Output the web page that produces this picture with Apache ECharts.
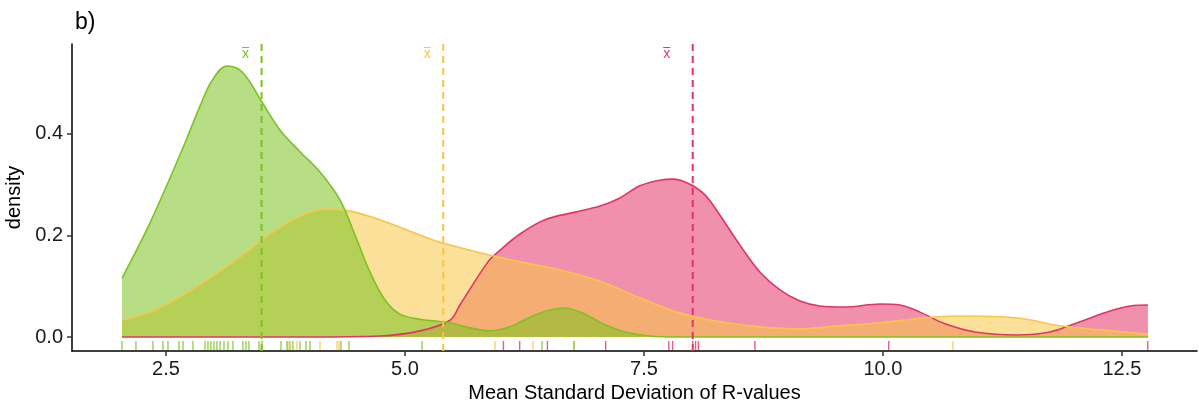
<!DOCTYPE html>
<html>
<head>
<meta charset="utf-8">
<script src="https://cdn.jsdelivr.net/npm/echarts@6/dist/echarts.min.js"></script>
<style>
    html, body { margin: 0; padding: 0; background: #fff; }
    #chart { width: 1199px; height: 406px; }
</style>
</head>
<body>
<div id="chart"></div>
<script type="text/javascript">
    // density curves (x = mean SD, y = density)
    var greenX = [2.04, 2.333, 2.667, 2.856, 2.981, 3.138, 3.274, 3.379, 3.504, 3.692, 3.902, 4.111, 4.32, 4.477, 4.634, 4.791, 4.948, 5.157, 5.471, 5.68, 5.889, 6.098, 6.308, 6.517, 6.674, 6.883, 7.092, 7.301, 7.563, 7.877, 9.0, 10.0, 11.0, 12.0, 12.772];
    var greenY = [0.116, 0.225, 0.368, 0.455, 0.505, 0.534, 0.526, 0.502, 0.463, 0.408, 0.365, 0.325, 0.27, 0.201, 0.128, 0.073, 0.045, 0.035, 0.028, 0.018, 0.012, 0.02, 0.039, 0.053, 0.057, 0.045, 0.024, 0.01, 0.002, 0, 0, 0, 0, 0, 0];

    var yellowX = [2.04, 2.333, 2.646, 2.96, 3.274, 3.588, 3.902, 4.163, 4.425, 4.738, 5.157, 5.397, 5.785, 6.203, 6.621, 7.04, 7.458, 7.877, 8.295, 8.713, 9.132, 9.55, 9.969, 10.387, 10.701, 11.015, 11.433, 11.852, 12.27, 12.772];
    var yellowY = [0.033, 0.049, 0.079, 0.116, 0.158, 0.203, 0.238, 0.252, 0.248, 0.231, 0.201, 0.185, 0.166, 0.148, 0.132, 0.11, 0.077, 0.047, 0.03, 0.02, 0.016, 0.022, 0.028, 0.037, 0.041, 0.041, 0.037, 0.022, 0.014, 0.006];

    var pinkX = [2.04, 3.0, 4.0, 4.739, 5.157, 5.471, 5.575, 5.868, 5.994, 6.203, 6.464, 6.778, 7.04, 7.249, 7.458, 7.667, 7.803, 7.981, 8.138, 8.295, 8.504, 8.713, 8.923, 9.132, 9.341, 9.603, 9.969, 10.178, 10.387, 10.649, 10.962, 11.402, 11.747, 12.061, 12.375, 12.584, 12.772];
    var pinkY = [0, 0, 0, 0.002, 0.012, 0.033, 0.063, 0.148, 0.171, 0.203, 0.231, 0.246, 0.258, 0.274, 0.298, 0.309, 0.311, 0.301, 0.28, 0.24, 0.181, 0.128, 0.093, 0.071, 0.061, 0.059, 0.065, 0.063, 0.049, 0.026, 0.01, 0.004, 0.01, 0.03, 0.051, 0.061, 0.063];

    // rug (single observations)
    var greenRug = [2.04, 2.186, 2.364, 2.469, 2.521, 2.636, 2.678, 2.782, 2.908, 2.939, 2.971, 3.002, 3.033, 3.065, 3.107, 3.149, 3.201, 3.305, 3.337, 3.368, 3.473, 3.504, 3.703, 3.766, 3.797, 3.828, 3.902, 3.964, 4.006, 4.331, 4.414, 5.178, 6.433, 6.768];
    var yellowRug = [3.776, 3.87, 4.111, 4.289, 4.31, 5.941, 6.339, 6.768, 10.732];
    var pinkRug = [6.03, 6.2, 6.49, 7.1, 7.76, 7.8, 8.01, 8.04, 8.07, 8.66, 10.06, 12.77];

    // group means (dashed lines)
    var means = [3.50, 5.40, 8.01];

    var xTicks = [2.5, 5.0, 7.5, 10.0, 12.5];
    var yTicks = [0.0, 0.2, 0.4];

    var lineColors = ['#7cc31f', '#f8c646', '#e33468'];   // green, yellow, pink
    var meanLabelShift = [-16, -16, -26];
    var font = 'Liberation Sans, Arial, sans-serif';

    function pairs(xs, ys) {
        var out = [];
        for (var i = 0; i < xs.length; i++) {
            out.push([xs[i], ys[i]]);
        }
        return out;
    }

    function densitySeries(name, xs, ys, color) {
        return {
            name: name,
            type: 'line',
            data: pairs(xs, ys),
            smooth: 0.35,
            showSymbol: false,
            symbol: 'none',
            lineStyle: { color: color, width: 1.6 },
            areaStyle: { color: color, opacity: 0.55 },
            silent: true,
            z: 2
        };
    }

    function rugSeries(name, values, color) {
        return {
            name: name + ' rug',
            type: 'custom',
            data: values,
            silent: true,
            z: 3,
            renderItem: function (params, api) {
                var p = api.coord([api.value(0), 0]);
                return {
                    type: 'line',
                    shape: { x1: p[0], y1: p[1] + 4, x2: p[0], y2: p[1] + 13 },
                    style: { stroke: color, lineWidth: 1.4, opacity: 0.8 }
                };
            }
        };
    }

    var yMin = -0.0276, yMax = 0.5773;

    var meanSeries = {
        name: 'means',
        type: 'custom',
        data: means,
        silent: true,
        z: 5,
        renderItem: function (params, api) {
            var i = params.dataIndex;
            var top = api.coord([api.value(0), yMax]);
            var bot = api.coord([api.value(0), yMin]);
            var c = lineColors[i];
            var lx = top[0] + meanLabelShift[i];
            return {
                type: 'group',
                children: [
                    {
                        type: 'line',
                        shape: { x1: top[0], y1: top[1], x2: bot[0], y2: bot[1] },
                        style: { stroke: c, lineWidth: 2, lineDash: [7, 5] }
                    },
                    {
                        type: 'text',
                        style: {
                            text: 'x', x: lx, y: 54, fill: c,
                            font: '14px ' + font, align: 'center', verticalAlign: 'middle'
                        }
                    },
                    {
                        type: 'line',
                        shape: { x1: lx - 3.5, y1: 47.5, x2: lx + 3.5, y2: 47.5 },
                        style: { stroke: c, lineWidth: 1 }
                    }
                ]
            };
        }
    };

    var option = {
        animation: false,
        backgroundColor: '#ffffff',
        title: {
            text: 'b)',
            left: 70,
            top: 6,
            textStyle: { fontFamily: font, fontSize: 23, fontWeight: 'normal', color: '#000' }
        },
        grid: { left: 72, right: 2, top: 44, bottom: 55, containLabel: false, outerBoundsMode: 'none' },
        xAxis: {
            type: 'value',
            min: 1.517,
            max: 13.285,
            name: 'Mean Standard Deviation of R-values',
            nameLocation: 'middle',
            nameGap: 31,
            nameTextStyle: { fontFamily: font, fontSize: 20, color: '#000' },
            axisLine: { show: true, onZero: false, lineStyle: { color: '#000', width: 1.5 } },
            axisTick: { show: true, length: 5, customValues: xTicks, lineStyle: { color: '#333', width: 1.5 } },
            axisLabel: {
                customValues: xTicks, margin: 8,
                fontFamily: font, fontSize: 20, color: '#1a1a1a',
                formatter: function (v) { return v.toFixed(1); }
            },
            splitLine: { show: false }
        },
        yAxis: {
            type: 'value',
            min: yMin,
            max: yMax,
            name: 'density',
            nameLocation: 'middle',
            nameGap: 44,
            nameTextStyle: { fontFamily: font, fontSize: 20, color: '#000' },
            axisLine: { show: true, onZero: false, lineStyle: { color: '#000', width: 1.5 } },
            axisTick: { show: true, length: 5, customValues: yTicks, lineStyle: { color: '#333', width: 1.5 } },
            axisLabel: {
                customValues: yTicks, margin: 9,
                fontFamily: font, fontSize: 20, color: '#1a1a1a',
                formatter: function (v) { return v.toFixed(1); }
            },
            splitLine: { show: false }
        },
        series: [
            densitySeries('pink', pinkX, pinkY, lineColors[2]),
            densitySeries('yellow', yellowX, yellowY, lineColors[1]),
            densitySeries('green', greenX, greenY, lineColors[0]),
            rugSeries('pink', pinkRug, lineColors[2]),
            rugSeries('yellow', yellowRug, lineColors[1]),
            rugSeries('green', greenRug, lineColors[0]),
            meanSeries
        ]
    };

    var myChart = echarts.init(document.getElementById('chart'));
    myChart.setOption(option);
</script>
</body>
</html>
